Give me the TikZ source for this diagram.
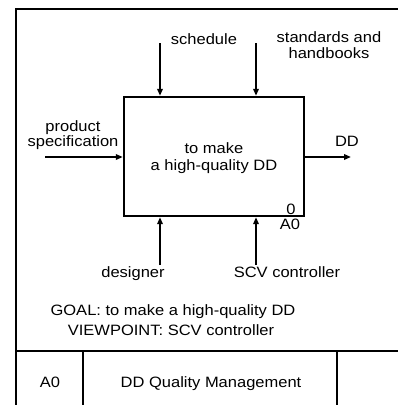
\documentclass[tikz,border=0pt]{standalone}
\usepackage{fontspec}
\setmainfont{Liberation Sans}[FakeStretch=1.1]
\usetikzlibrary{arrows.meta}
\begin{document}
\begin{tikzpicture}[x=1pt,y=-1pt,
  frameline/.style={line width=2.4pt},
  boxstyle/.style={draw,line width=2.4pt,minimum width=180pt,minimum height=119pt,inner sep=0pt},
  arr/.style={line width=2pt,-{Triangle[length=7pt,width=5.5pt]}},
  lbl/.style={anchor=base,inner sep=0pt,font=\fontsize{15}{18}\selectfont}]
\useasboundingbox (0,0) rectangle (398,405);
% frame
\draw[frameline] (16,406) -- (16,9) -- (399,9);
\draw[frameline] (16,351) -- (399,351);
\draw[frameline] (83,351) -- (83,406);
\draw[frameline] (337,351) -- (337,406);
% box
\node[boxstyle] (A0box) at (214,156.5) {};
% free ends
\coordinate (cin1) at (160,43);
\coordinate (cin2) at (256,43);
\coordinate (inp) at (45,157);
\coordinate (outp) at (351,157);
\coordinate (mech1) at (160,265);
\coordinate (mech2) at (256,265);
\draw[arr] (cin1) -- (cin1 |- A0box.north);
\draw[arr] (cin2) -- (cin2 |- A0box.north);
\draw[arr] (inp) -- (inp -| A0box.west);
\draw[arr] (outp -| A0box.east) -- (outp);
\draw[arr] (mech1) -- (mech1 |- A0box.south);
\draw[arr] (mech2) -- (mech2 |- A0box.south);
% labels
\node[lbl] (lsched) at (204,44) {schedule};
\node[lbl] (lstd1) at (329,42) {standards and};
\node[lbl] (lstd2) at (329,58) {handbooks};
\node[lbl] (lprod1) at (73,131) {product};
\node[lbl] (lprod2) at (73,146) {specification};
\node[lbl] (lfun1) at (214,153) {to make};
\node[lbl] (lfun2) at (214,170) {a high-quality DD};
\node[lbl] (lout) at (347,146) {DD};
\node[lbl] (lzero) at (291,214) {0};
\node[lbl] (lnum) at (290,229) {A0};
\node[lbl] (ldes) at (133,277) {designer};
\node[lbl] (lscv) at (287,277) {SCV controller};
\node[lbl] (lgoal) at (173,315) {GOAL: to make a high-quality DD};
\node[lbl] (lview) at (171,335) {VIEWPOINT: SCV controller};
\node[lbl] (lnode) at (50,387) {A0};
\node[lbl] (ltitle) at (211,387) {DD Quality Management};
\end{tikzpicture}
\end{document}
